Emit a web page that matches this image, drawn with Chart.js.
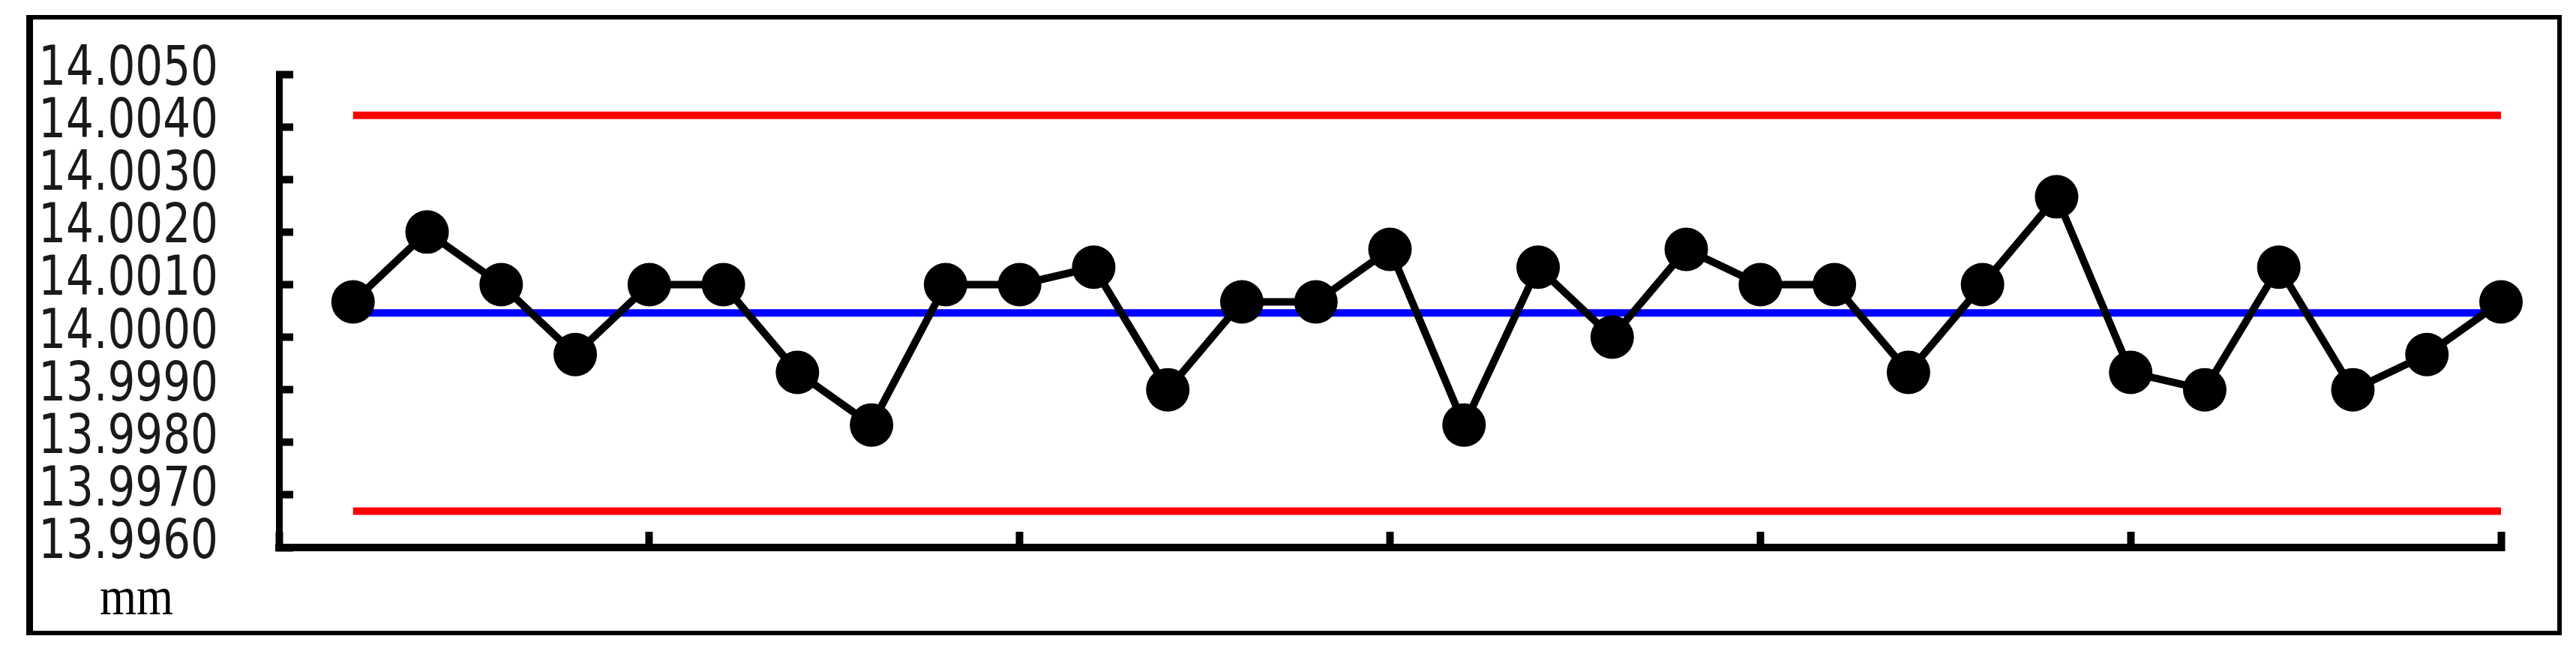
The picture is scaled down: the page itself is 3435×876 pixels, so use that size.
<!DOCTYPE html>
<html>
<head>
<meta charset="utf-8">
<title>X-bar control chart</title>
<script src="https://cdn.jsdelivr.net/npm/chart.js@4.4.1/dist/chart.umd.min.js"></script>
<style>
  html, body { margin: 0; padding: 0; background: #fff; }
  #kutu { width: 3435px; height: 876px; }
</style>
</head>
<body>
<div id="kutu"><canvas id="grafik" width="3435" height="876"></canvas></div>
<script>
// Sample numbers (x) and subgroup means (mm)
const sampleNo = [1, 2, 3, 4, 5, 6, 7, 8, 9, 10, 11, 12, 13, 14, 15,
                  16, 17, 18, 19, 20, 21, 22, 23, 24, 25, 26, 27, 28, 29, 30];
const xbar = [14.00067, 14.00200, 14.00100, 13.99967, 14.00100, 14.00100, 13.99933, 13.99833, 14.00100, 14.00100,
              14.00133, 13.99900, 14.00067, 14.00067, 14.00167, 13.99833, 14.00133, 14.00000, 14.00167, 14.00100,
              14.00100, 13.99933, 14.00100, 14.00267, 13.99933, 13.99900, 14.00133, 13.99900, 13.99967, 14.00067];

// Control limits
const ucl = [14.00422, 14.00422];
const cl = [14.00046, 14.00046];
const lcl = [13.99669, 13.99669];
const limitX = [1, 30];

// Axis ticks
const yMin = 13.996, yMax = 14.005, yStep = 0.001;
const xMin = 0, xMax = 30, xStep = 5;
const unitText = 'mm';

function cizgi(values) {
    return limitX.map(function(x, i) { return { x: x, y: values[i] }; });
}

// Frame round the whole picture
const cerceve = {
    id: 'cerceve',
    beforeDraw: function(chart) {
        const ctx = chart.ctx;
        ctx.save();
        ctx.fillStyle = '#fff';
        ctx.fillRect(0, 0, chart.width, chart.height);
        ctx.strokeStyle = '#000';
        ctx.lineWidth = 6;
        ctx.strokeRect(38, 23, 3375, 821);
        ctx.fillStyle = '#000';
        ctx.fillRect(35, 20, 9, 827);
        ctx.restore();
    }
};

// Y labels (tall, narrow font) and unit text
const etiketler = {
    id: 'etiketler',
    afterDraw: function(chart) {
        const ctx = chart.ctx;
        const y = chart.scales.y;
        ctx.save();
        ctx.fillStyle = '#1a1a1a';
        ctx.textAlign = 'right';
        ctx.textBaseline = 'middle';
        ctx.font = '58px "DejaVu Sans"';
        y.ticks.forEach(function(t) {
            const py = y.getPixelForValue(t.value) - 5;
            ctx.save();
            ctx.translate(291, py);
            ctx.scale(1, 1.26);
            ctx.fillText(t.value.toFixed(4), 0, 0);
            ctx.restore();
        });
        ctx.fillStyle = '#000';
        ctx.textAlign = 'center';
        ctx.textBaseline = 'alphabetic';
        ctx.font = '63px "Liberation Serif"';
        ctx.translate(182, 819);
        ctx.scale(1, 1.15);
        ctx.fillText(unitText, 0, 0);
        ctx.restore();
    }
};

const ctx = document.getElementById('grafik').getContext('2d');
new Chart(ctx, {
    type: 'line',
    data: {
        datasets: [
            {
                label: 'Xbar',
                data: sampleNo.map(function(n, i) { return { x: n, y: xbar[i] }; }),
                borderColor: '#000',
                borderWidth: 10,
                backgroundColor: '#000',
                pointBackgroundColor: '#000',
                pointBorderWidth: 0,
                pointRadius: 29,
                tension: 0,
                clip: false
            },
            {
                label: 'CL',
                data: cizgi(cl),
                borderColor: '#0000ff',
                borderWidth: 10,
                pointRadius: 0,
                borderCapStyle: 'butt'
            },
            {
                label: 'UCL',
                data: cizgi(ucl),
                borderColor: '#ff0000',
                borderWidth: 10,
                pointRadius: 0,
                borderCapStyle: 'butt'
            },
            {
                label: 'LCL',
                data: cizgi(lcl),
                borderColor: '#ff0000',
                borderWidth: 10,
                pointRadius: 0,
                borderCapStyle: 'butt'
            }
        ]
    },
    options: {
        responsive: false,
        animation: false,
        devicePixelRatio: 1,
        layout: {
            padding: { top: 99, right: 100, left: 0, bottom: 0 }
        },
        plugins: {
            legend: { display: false },
            tooltip: { enabled: false }
        },
        scales: {
            x: {
                type: 'linear',
                min: xMin,
                max: xMax,
                ticks: { stepSize: xStep, display: false },
                grid: {
                    drawOnChartArea: false,
                    drawTicks: true,
                    tickLength: -21,
                    tickWidth: 10,
                    tickColor: '#000'
                },
                border: { display: true, color: '#000', width: 10 },
                afterFit: function(scale) { scale.height = 146; }
            },
            y: {
                type: 'linear',
                min: yMin,
                max: yMax,
                ticks: { stepSize: yStep, display: false },
                grid: {
                    drawOnChartArea: false,
                    drawTicks: true,
                    tickLength: -19,
                    tickWidth: 10,
                    tickColor: '#000'
                },
                border: { display: true, color: '#000', width: 9 },
                afterFit: function(scale) { scale.width = 372; }
            }
        }
    },
    plugins: [cerceve, etiketler]
});
</script>
</body>
</html>
